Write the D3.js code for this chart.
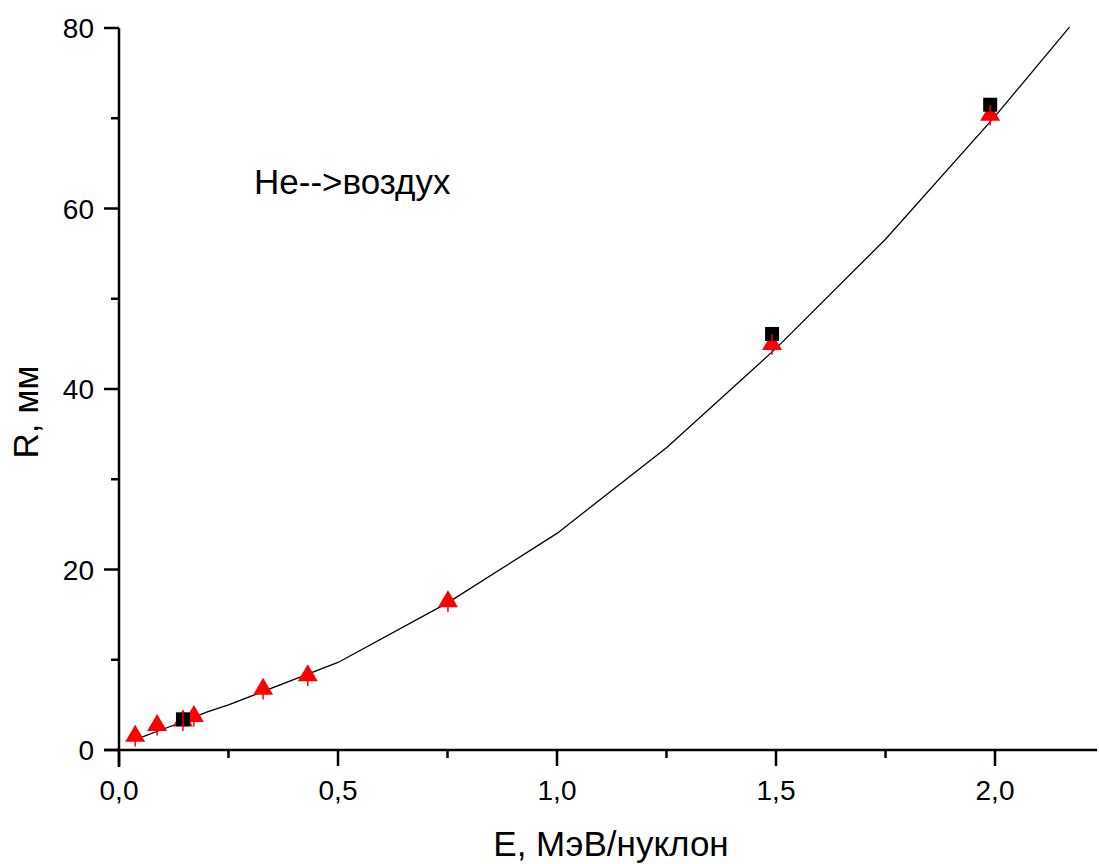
<!DOCTYPE html>
<html>
<head>
<meta charset="utf-8">
<script src="https://cdn.jsdelivr.net/npm/d3@7"></script>
<style>
  html, body { margin: 0; padding: 0; background: #fff; }
  svg { display: block; }
  text { font-family: "Liberation Sans", Arial, sans-serif; fill: #000; }
</style>
</head>
<body>
<svg id="chart" width="1099" height="864"></svg>
<script>
// Data
const triE = [0.037, 0.087, 0.146, 0.171, 0.329, 0.431, 0.751, 1.491, 1.989];
const triR = [1.8, 3.0, 3.5, 4.0, 7.0, 8.5, 16.7, 45.2, 70.6];
const triErr = [1.4, 1.4, 1.4, 1.4, 1.4, 1.4, 1.4, 1.4, 1.4];
const sqE = [0.146, 1.491, 1.989];
const sqR = [3.4, 46.1, 71.5];
const curveE = [0.04, 0.1, 0.15, 0.2, 0.25, 0.5, 0.75, 1.0, 1.25, 1.5, 1.75, 2.0, 2.17];
const curveR = [1.2, 2.3, 3.2, 4.2, 5.0, 9.7, 16.3, 24.0, 33.5, 44.5, 56.6, 70.2, 80.1];
const xMajor = [0, 0.5, 1.0, 1.5, 2.0];
const xMinor = [0.25, 0.75, 1.25, 1.75];
const yMajor = [0, 20, 40, 60, 80];
const yMinor = [10, 30, 50, 70];
const xTitle = "E, МэВ/нуклон";
const yTitle = "R, мм";
const note = "He-->воздух";

const svg = d3.select("#chart");
const x = d3.scaleLinear().domain([0, 2]).range([119, 995]);
const y = d3.scaleLinear().domain([0, 80]).range([750, 28]);
const fmt = d => d3.format(".1f")(d).replace(".", ",");

// X axis
const xAxisG = svg.append("g").attr("transform", `translate(0,${y(0)})`);
xAxisG.append("line").attr("x1", 104).attr("x2", 1097).attr("y1", 0).attr("y2", 0)
  .attr("stroke", "#000").attr("stroke-width", 2.5);
xAxisG.selectAll(".xmaj").data(xMajor).join("line")
  .attr("x1", d => x(d)).attr("x2", d => x(d)).attr("y1", 0).attr("y2", 16)
  .attr("stroke", "#000").attr("stroke-width", 2.5);
xAxisG.selectAll(".xmin").data(xMinor).join("line")
  .attr("x1", d => x(d)).attr("x2", d => x(d)).attr("y1", 0).attr("y2", 8)
  .attr("stroke", "#000").attr("stroke-width", 2.5);
xAxisG.selectAll(".xlab").data(xMajor).join("text")
  .attr("x", d => x(d)).attr("y", 50)
  .attr("text-anchor", "middle").attr("font-size", 28)
  .text(fmt);

// Y axis
const yAxisG = svg.append("g").attr("transform", `translate(${x(0)},0)`);
yAxisG.append("line").attr("x1", 0).attr("x2", 0).attr("y1", 28).attr("y2", 767)
  .attr("stroke", "#000").attr("stroke-width", 2.5);
yAxisG.selectAll(".ymaj").data(yMajor).join("line")
  .attr("x1", -15).attr("x2", 0).attr("y1", d => y(d)).attr("y2", d => y(d))
  .attr("stroke", "#000").attr("stroke-width", 2.5);
yAxisG.selectAll(".ymin").data(yMinor).join("line")
  .attr("x1", -8).attr("x2", 0).attr("y1", d => y(d)).attr("y2", d => y(d))
  .attr("stroke", "#000").attr("stroke-width", 2.5);
yAxisG.selectAll(".ylab").data(yMajor).join("text")
  .attr("x", -25).attr("y", d => y(d)).attr("dy", "0.36em")
  .attr("text-anchor", "end").attr("font-size", 28)
  .text(d => d);

// Titles
svg.append("text").attr("x", 611).attr("y", 856).attr("text-anchor", "middle")
  .attr("font-size", 35).text(xTitle);
svg.append("text").attr("transform", "translate(38,412) rotate(-90)")
  .attr("text-anchor", "middle").attr("font-size", 35).text(yTitle);
svg.append("text").attr("x", 254).attr("y", 194).attr("font-size", 35).text(note);

// Curve
const line = d3.line().x(d => x(d[0])).y(d => y(d[1]));
svg.append("path").datum(curveE.map((e, i) => [e, curveR[i]]))
  .attr("d", line).attr("fill", "none").attr("stroke", "#000").attr("stroke-width", 1.3);

// Triangles
const triPath = "M0,-9L10,8L-10,8Z";
svg.selectAll(".tri").data(triE.map((e, i) => [e, triR[i]])).join("path")
  .attr("d", triPath).attr("transform", d => `translate(${x(d[0])},${y(d[1])})`)
  .attr("fill", "#ff0000");

// Squares
svg.selectAll(".sq").data(sqE.map((e, i) => [e, sqR[i]])).join("rect")
  .attr("x", d => x(d[0]) - 7).attr("y", d => y(d[1]) - 7)
  .attr("width", 14).attr("height", 14).attr("fill", "#000");

// Error bars of the triangles
svg.selectAll(".err").data(triE.map((e, i) => [e, triR[i], triErr[i]])).join("line")
  .attr("x1", d => x(d[0])).attr("x2", d => x(d[0]))
  .attr("y1", d => y(d[1] + d[2] * 0.6)).attr("y2", d => y(d[1] - d[2]))
  .attr("stroke", "#ff0000").attr("stroke-width", 1.5);
</script>
</body>
</html>
